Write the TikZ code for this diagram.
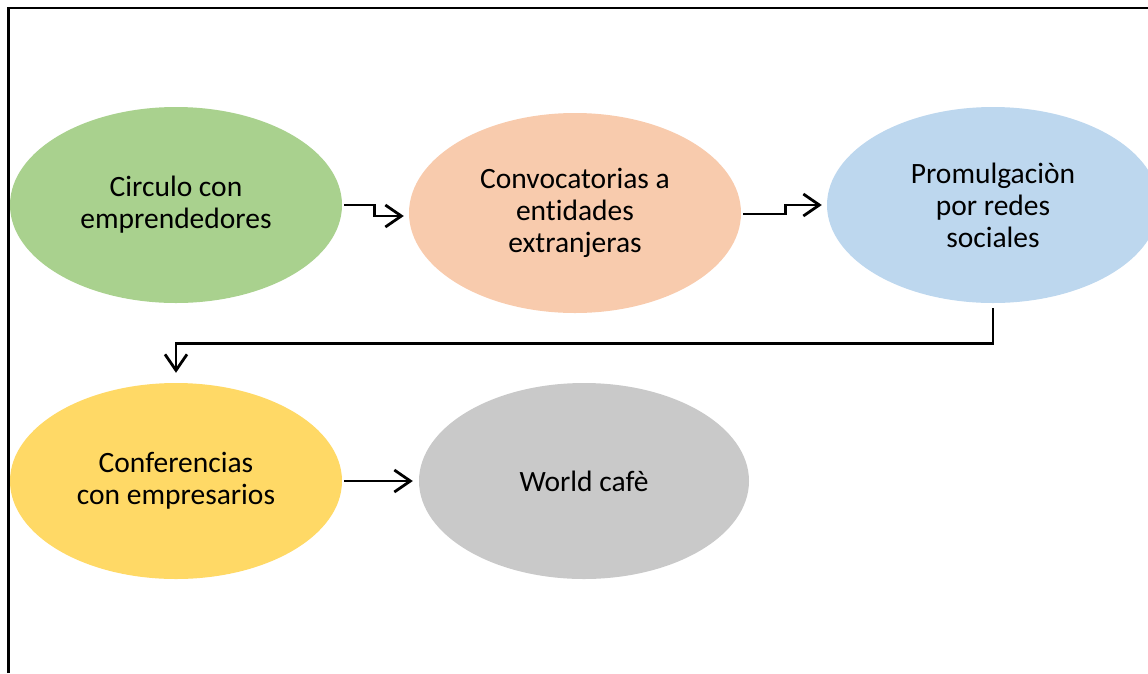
\documentclass[tikz,border=0pt]{standalone}
\usepackage{fontspec}
\setmainfont{Carlito}[Ligatures=NoCommon]
\usetikzlibrary{shapes.geometric,arrows.meta}

\definecolor{verde}{HTML}{A9D18E}
\definecolor{naranja}{HTML}{F8CBAD}
\definecolor{azul}{HTML}{BDD7EE}
\definecolor{amarillo}{HTML}{FFD966}
\definecolor{gris}{HTML}{C9C9C9}

\tikzset{
  bubble/.style={ellipse, minimum width=332pt, minimum height=196pt,
    inner sep=0pt, align=center, font=\fontsize{29.5}{32}\selectfont},
  flow/.style={line width=2.8pt, -{Straight Barb[length=16pt,width=22pt]}}
}

\begin{document}
\begin{tikzpicture}[x=1pt,y=-1pt]
    \useasboundingbox (0,0) rectangle (1148,673);
    % frame
    \draw[line width=2.5pt] (8.5,673) -- (8.5,8) -- (1148,8);

    % first row
    \node[bubble, fill=verde] (circulo) at (176,205) {Circulo con\\emprendedores};
    \node[bubble, fill=naranja, minimum height=200pt] (convoc) at (575,213) {Convocatorias a\\entidades\\extranjeras};
    \node[bubble, fill=azul] (promul) at (993,205) {Promulgaciòn\\por redes\\sociales};

    % second row
    \node[bubble, fill=amarillo] (confer) at (176,481) {Conferencias\\con empresarios};
    \node[bubble, fill=gris, minimum width=330pt] (world) at (584,481) {World cafè};

    % connectors
    \draw[flow] ([xshift=2pt]circulo.east) -- ++(30,0) |- ([xshift=-5pt,yshift=-3pt]convoc.west);
    \draw[flow] ([xshift=2pt,yshift=-1pt]convoc.east) -- ++(42,0) |- ([xshift=-5pt]promul.west);
    \draw[flow] ([yshift=-5pt]promul.south) -- ++(0,35) -| ([yshift=10pt]confer.north);
    \draw[flow] ([xshift=2pt]confer.east) -- ([xshift=-6pt]world.west);
\end{tikzpicture}
\end{document}
